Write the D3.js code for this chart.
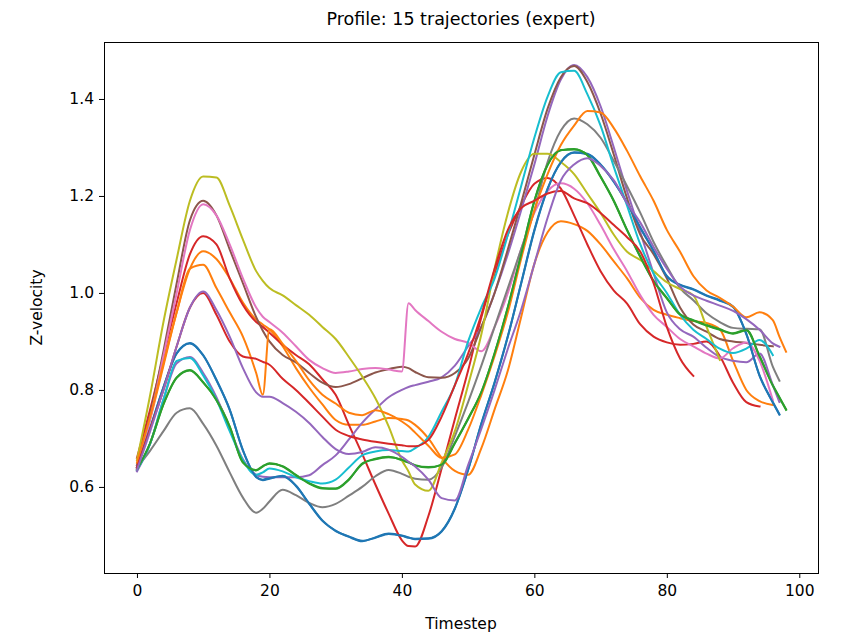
<!DOCTYPE html>
<html>
<head>
<meta charset="utf-8">
<script src="https://cdn.jsdelivr.net/npm/d3@7"></script>
<style>
  body { margin: 0; background: #fff; }
  svg { font-family: "DejaVu Sans", sans-serif; }
</style>
</head>
<body>
<script>
// timesteps the values were read at
var timesteps = [0,2,4,6,8,10,12,14,16,18,19,20,22,24,26,28,30,32,34,36,38,40,41,42,44,46,48,50,52,54,56,58,60,62,64,66,68,70,72,74,76,78,80,82,84,86,88,90,92,94,96,97,98];

var traj01 = [0.640,0.720,0.805,0.875,0.896,0.872,0.820,0.760,0.675,0.620,0.614,0.617,0.623,0.603,0.565,0.530,0.510,0.497,0.488,0.496,0.504,0.500,0.496,0.492,0.493,0.508,0.555,0.635,0.730,0.815,0.910,1.020,1.130,1.215,1.270,1.290,1.287,1.265,1.230,1.185,1.135,1.087,1.035,1.017,1.008,0.995,0.985,0.972,0.915,0.830,0.775,0.750,null];
var traj02 = [0.645,0.740,0.850,0.960,1.050,1.086,1.070,1.030,0.980,0.945,0.935,0.925,0.890,0.845,0.805,0.770,0.738,0.728,0.728,0.735,0.742,0.740,0.737,0.728,0.700,0.660,0.633,0.625,0.680,0.760,0.840,0.950,1.060,1.125,1.148,1.142,1.128,1.100,1.065,1.030,0.990,0.965,0.955,0.948,0.942,0.938,0.925,0.860,0.800,0.777,0.769,null,null];
var traj03 = [0.635,0.690,0.770,0.825,0.840,0.815,0.780,0.725,0.650,0.635,0.643,0.648,0.643,0.625,0.608,0.598,0.596,0.615,0.648,0.658,0.662,0.655,0.650,0.645,0.641,0.645,0.690,0.740,0.795,0.875,0.970,1.080,1.190,1.265,1.295,1.296,1.285,1.240,1.190,1.130,1.075,1.025,0.990,0.955,0.944,0.934,0.925,0.917,0.924,0.870,0.810,0.785,0.760];
var traj04 = [0.660,0.760,0.870,0.980,1.080,1.117,1.100,1.030,0.975,0.940,0.930,0.918,0.893,0.872,0.853,0.822,0.790,0.728,0.668,0.605,0.545,0.490,0.478,0.477,0.540,0.638,0.740,0.840,0.950,1.040,1.120,1.180,1.225,1.237,1.215,1.160,1.100,1.045,1.005,0.978,0.935,0.910,0.898,0.893,0.895,0.900,0.870,0.815,0.775,0.766,null,null,null];
var traj05 = [0.632,0.690,0.780,0.855,0.868,0.835,0.785,0.720,0.657,0.625,0.621,0.620,0.620,0.620,0.624,0.645,0.665,0.698,0.732,0.760,0.785,0.800,0.806,0.810,0.817,0.826,0.850,0.890,0.930,1.000,1.080,1.170,1.265,1.365,1.440,1.470,1.445,1.385,1.300,1.210,1.125,1.040,0.960,0.925,0.910,0.887,0.868,0.860,0.857,0.875,0.810,0.775,null];
var traj06 = [0.645,0.750,0.880,1.020,1.150,1.190,1.160,1.090,1.020,0.950,0.922,0.900,0.872,0.857,0.835,0.815,0.806,0.812,0.824,0.836,0.843,0.848,0.845,0.837,0.826,0.825,0.835,0.865,0.930,1.000,1.090,1.185,1.285,1.380,1.445,1.468,1.435,1.370,1.285,1.195,1.120,1.080,1.030,0.970,0.935,0.920,0.905,0.900,0.897,0.893,0.890,null,null];
var traj07 = [0.640,0.740,0.870,1.000,1.130,1.183,1.160,1.100,1.030,0.970,0.951,0.940,0.918,0.890,0.862,0.845,0.835,0.838,0.843,0.845,0.842,0.838,0.979,0.965,0.942,0.920,0.905,0.897,0.880,0.930,1.000,1.090,1.165,1.210,1.226,1.215,1.185,1.140,1.090,1.045,0.995,0.955,0.930,0.905,0.890,0.875,0.865,0.886,0.898,0.860,0.779,null,null];
var traj08 = [0.640,0.675,0.715,0.753,0.762,0.730,0.685,0.630,0.578,0.547,0.555,0.570,0.594,0.583,0.567,0.558,0.565,0.582,0.600,0.622,0.635,0.627,0.621,0.617,0.615,0.640,0.705,0.775,0.850,0.930,1.010,1.090,1.170,1.270,1.335,1.360,1.348,1.320,1.272,1.220,1.165,1.105,1.055,1.010,0.985,0.958,0.940,0.928,0.926,0.925,0.848,0.819,null];
var traj09 = [0.655,0.790,0.940,1.070,1.190,1.240,1.238,1.180,1.110,1.045,1.025,1.010,0.995,0.975,0.955,0.930,0.905,0.868,0.828,0.783,0.725,0.655,0.632,0.605,0.592,0.650,0.715,0.810,0.915,1.050,1.165,1.250,1.287,1.287,1.270,1.245,1.205,1.165,1.120,1.085,1.068,1.045,1.022,1.008,0.995,0.930,0.862,null,null,null,null,null,null];
var traj10 = [0.635,0.690,0.780,0.860,0.866,0.830,0.780,0.715,0.655,0.625,0.630,0.638,0.632,0.620,0.612,0.607,0.615,0.640,0.665,0.673,0.676,0.674,0.673,0.680,0.703,0.755,0.810,0.900,0.970,1.030,1.120,1.220,1.320,1.405,1.455,1.458,1.410,1.345,1.260,1.180,1.100,1.040,1.000,0.955,0.924,0.905,0.885,0.876,0.885,0.903,0.872,null,null];
var traj11 = [0.641,0.722,0.806,0.876,0.897,0.871,0.821,0.759,0.676,0.621,0.615,0.618,0.622,0.602,0.566,0.531,0.509,0.498,0.489,0.495,0.503,0.499,0.495,0.493,0.494,0.509,0.556,0.636,0.731,0.816,0.911,1.019,1.128,1.214,1.269,1.289,1.286,1.264,1.229,1.186,1.134,1.086,1.034,1.016,1.007,0.994,0.984,0.971,0.916,0.829,0.774,0.749,null];
var traj12 = [0.650,0.745,0.855,0.960,1.050,1.058,1.010,0.960,0.910,0.835,0.790,0.925,0.895,0.860,0.820,0.790,0.772,0.753,0.748,0.758,0.750,0.735,0.725,0.712,0.685,0.660,0.667,0.718,0.790,0.870,0.960,1.070,1.170,1.245,1.305,1.345,1.375,1.372,1.340,1.293,1.240,1.190,1.130,1.085,1.035,1.005,0.990,0.972,0.950,0.960,0.944,0.910,0.879];
var traj13 = [0.636,0.691,0.771,0.826,0.841,0.816,0.779,0.724,0.651,0.634,0.642,0.649,0.642,0.624,0.607,0.597,0.597,0.616,0.647,0.657,0.661,0.656,0.651,0.644,0.640,0.646,0.691,0.741,0.796,0.876,0.971,1.079,1.189,1.264,1.294,1.297,1.284,1.239,1.189,1.129,1.074,1.024,0.989,0.956,0.943,0.933,0.924,0.916,0.923,0.869,0.809,0.784,0.759];
var traj14 = [0.640,0.720,0.800,0.890,0.970,1.000,0.955,0.900,0.869,0.864,0.858,0.852,0.823,0.800,0.773,0.745,0.718,0.705,0.698,0.693,0.689,0.686,0.684,0.684,0.697,0.745,0.810,0.875,0.955,1.050,1.130,1.175,1.190,1.205,1.210,1.195,1.185,1.165,1.140,1.115,1.085,1.020,0.930,0.865,0.829,null,null,null,null,null,null,null,null];
var traj15 = [0.635,0.715,0.800,0.890,0.970,1.003,0.965,0.910,0.845,0.795,0.786,0.786,0.773,0.755,0.732,0.703,0.678,0.668,0.672,0.682,0.677,0.662,0.652,0.642,0.615,0.577,0.572,0.645,0.720,0.800,0.885,0.965,1.060,1.155,1.232,1.265,1.278,1.262,1.232,1.185,1.145,1.095,1.050,1.013,0.995,0.984,0.974,0.963,0.946,0.924,0.896,0.889,null];

var trajectories = [traj01, traj02, traj03, traj04, traj05, traj06, traj07, traj08,
  traj09, traj10, traj11, traj12, traj13, traj14, traj15];

// matplotlib default colour cycle
var colors = ["#1f77b4", "#ff7f0e", "#2ca02c", "#d62728", "#9467bd",
  "#8c564b", "#e377c2", "#7f7f7f", "#bcbd22", "#17becf"];

var xTicks = [0, 20, 40, 60, 80, 100];
var yTicks = [0.6, 0.8, 1.0, 1.2, 1.4];

var w = 841;
var h = 635;
var plotLeft = 104, plotRight = 818, plotTop = 42, plotBottom = 573;

var svg = d3.select("body").append("svg")
  .attr("width", w)
  .attr("height", h);

var xScale = d3.scaleLinear().domain([-4.9, 102.9]).range([plotLeft + 0.5, plotRight + 0.5]);
var yScale = d3.scaleLinear().domain([0.4225, 1.5175]).range([plotBottom, plotTop]);

svg.append("defs").append("clipPath").attr("id", "plotclip")
  .append("rect")
  .attr("x", plotLeft).attr("y", plotTop)
  .attr("width", plotRight - plotLeft).attr("height", plotBottom - plotTop);

var line = d3.line()
  .defined(function(d) { return d[1] != null; })
  .x(function(d) { return xScale(d[0]); })
  .y(function(d) { return yScale(d[1]); })
  .curve(d3.curveMonotoneX);

//trajectories, drawn in order so later ones sit on top
svg.append("g")
  .attr("clip-path", "url(#plotclip)")
  .selectAll("path")
  .data(trajectories)
  .enter()
  .append("path")
  .attr("fill", "none")
  .attr("stroke", function(d, i) { return colors[i % colors.length]; })
  .attr("stroke-width", 2)
  .attr("stroke-linejoin", "round")
  .attr("stroke-linecap", "square")
  .attr("d", function(d) {
    return line(timesteps.map(function(t, j) { return [t, d[j]]; }));
  });

//x axis
var xAxis = d3.axisBottom(xScale)
  .tickValues(xTicks)
  .tickSize(5)
  .tickPadding(7)
  .tickFormat(d3.format("d"));

var gx = svg.append("g")
  .attr("transform", "translate(0," + plotBottom + ")")
  .call(xAxis);

//y axis
var yAxis = d3.axisLeft(yScale)
  .tickValues(yTicks)
  .tickSize(5)
  .tickPadding(5)
  .tickFormat(d3.format(".1f"));

var gy = svg.append("g")
  .attr("transform", "translate(" + plotLeft + ",0)")
  .call(yAxis);

[gx, gy].forEach(function(g) {
  g.select(".domain").remove();
  g.selectAll("line").attr("stroke", "#000").attr("stroke-width", 1);
  g.selectAll("text")
    .attr("fill", "#000")
    .style("font-size", "15.5px")
    .style("font-family", "DejaVu Sans, sans-serif");
});

//frame
svg.append("rect")
  .attr("x", plotLeft + 0.5)
  .attr("y", plotTop + 0.5)
  .attr("width", plotRight - plotLeft)
  .attr("height", plotBottom - plotTop)
  .attr("fill", "none")
  .attr("stroke", "#000")
  .attr("stroke-width", 1);

//title and labels
svg.append("text")
  .attr("x", (plotLeft + plotRight) / 2)
  .attr("y", 25)
  .attr("text-anchor", "middle")
  .style("font-size", "17.5px")
  .text("Profile: 15 trajectories (expert)");

svg.append("text")
  .attr("x", (plotLeft + plotRight) / 2)
  .attr("y", 629)
  .attr("text-anchor", "middle")
  .style("font-size", "15.5px")
  .text("Timestep");

svg.append("text")
  .attr("transform", "translate(42," + (plotTop + plotBottom) / 2 + ") rotate(-90)")
  .attr("text-anchor", "middle")
  .style("font-size", "15.5px")
  .text("Z-velocity");
</script>
</body>
</html>
